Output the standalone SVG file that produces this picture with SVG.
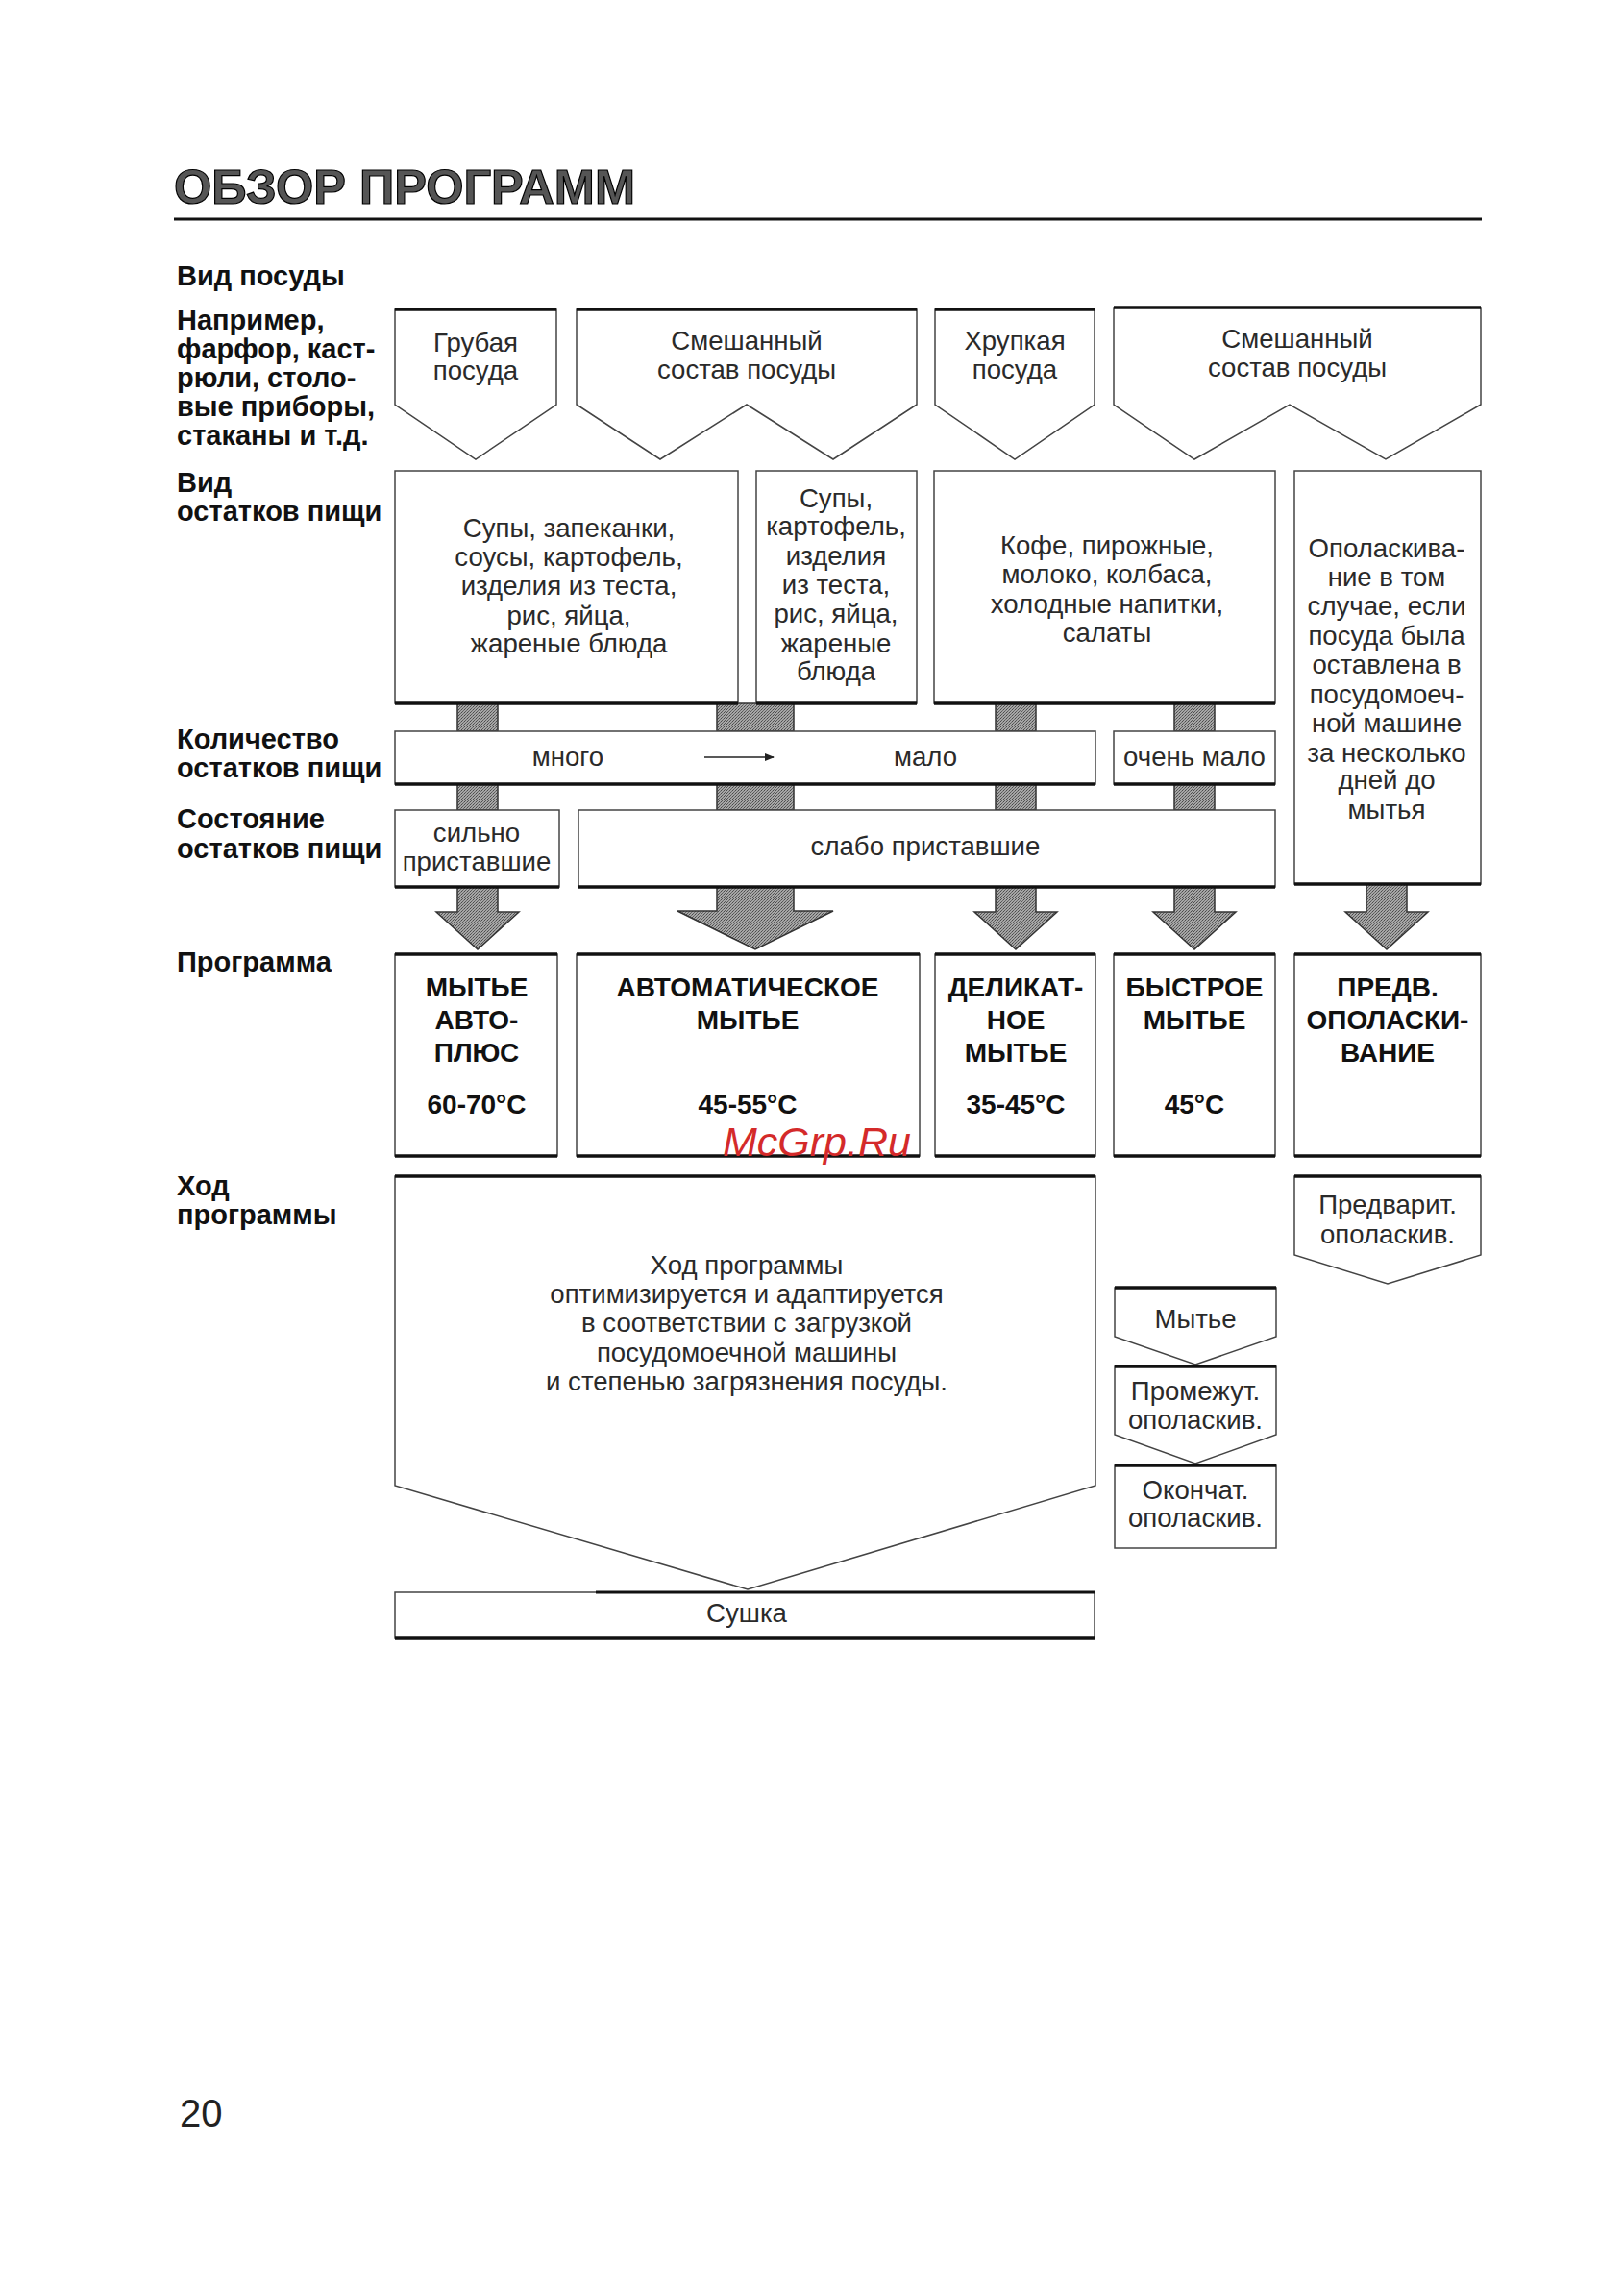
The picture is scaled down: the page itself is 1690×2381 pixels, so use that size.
<svg xmlns="http://www.w3.org/2000/svg" width="1690" height="2381" viewBox="0 0 1690 2381">
<style>
.lbl{font-family:"Liberation Sans",Arial,sans-serif;font-weight:bold;font-size:29px;fill:#111}
.t{font-family:"Liberation Sans",Arial,sans-serif;font-size:27.6px;fill:#2a2a2a;text-anchor:middle}
.p{font-family:"Liberation Sans",Arial,sans-serif;font-weight:bold;font-size:28px;fill:#111;text-anchor:middle}
.box{fill:#fff;stroke:#444;stroke-width:1.5}
.thick{stroke:#111;stroke-width:3.5;fill:none}
.bar{fill:url(#hatch);stroke:#333;stroke-width:1.5}
</style>
<defs>
<pattern id="hatch" width="3" height="3" patternUnits="userSpaceOnUse">
<rect width="3" height="3" fill="#a6a6a6"/>
<rect x="0" y="0" width="1" height="1" fill="#4a4a4a"/>
<rect x="2" y="1" width="1" height="1" fill="#6a6a6a"/>
<rect x="1" y="2" width="1" height="1" fill="#5a5a5a"/>
</pattern>
<marker id="ah" markerWidth="10" markerHeight="8" refX="9" refY="4" orient="auto" markerUnits="userSpaceOnUse">
<path d="M0 0 L10 4 L0 8 Z" fill="#222"/>
</marker>
</defs>
<rect width="1690" height="2381" fill="#fff"/>

<g id="header">
<text x="181" y="212" font-family="Liberation Sans,Arial,sans-serif" font-weight="bold" font-size="50.5" fill="#555" stroke="#000" stroke-width="1.2">ОБЗОР ПРОГРАММ</text>
<line x1="181" y1="228" x2="1542" y2="228" stroke="#111" stroke-width="3"/>
</g>

<g id="labels">
<text class="lbl" x="184" y="297">Вид посуды</text>
<text class="lbl" x="184" y="343">Например,</text>
<text class="lbl" x="184" y="373">фарфор, каст-</text>
<text class="lbl" x="184" y="403">рюли, столо-</text>
<text class="lbl" x="184" y="433">вые приборы,</text>
<text class="lbl" x="184" y="463">стаканы и т.д.</text>
<text class="lbl" x="184" y="512">Вид</text>
<text class="lbl" x="184" y="542">остатков пищи</text>
<text class="lbl" x="184" y="779">Количество</text>
<text class="lbl" x="184" y="809">остатков пищи</text>
<text class="lbl" x="184" y="862">Состояние</text>
<text class="lbl" x="184" y="893">остатков пищи</text>
<text class="lbl" x="184" y="1011">Программа</text>
<text class="lbl" x="184" y="1244">Ход</text>
<text class="lbl" x="184" y="1274">программы</text>
</g>

<g id="connectors">
<rect class="bar" x="476" y="732" width="42" height="29"/>
<rect class="bar" x="746" y="732" width="80" height="29"/>
<rect class="bar" x="1036" y="732" width="42" height="29"/>
<rect class="bar" x="1222" y="732" width="42" height="29"/>
<rect class="bar" x="476" y="816" width="42" height="27"/>
<rect class="bar" x="746" y="816" width="80" height="27"/>
<rect class="bar" x="1036" y="816" width="42" height="27"/>
<rect class="bar" x="1222" y="816" width="42" height="27"/>
<polygon class="bar" points="476,923 518,923 518,949 540,949 497,988 454,949 476,949"/>
<polygon class="bar" points="746,923 826,923 826,948 867,948 786,988 705,948 746,948"/>
<polygon class="bar" points="1036,923 1078,923 1078,949 1100,949 1057,988 1014,949 1036,949"/>
<polygon class="bar" points="1222,923 1264,923 1264,949 1286,949 1243,988 1200,949 1222,949"/>
<polygon class="bar" points="1422,920 1464,920 1464,949 1486,949 1443,988 1400,949 1422,949"/>
</g>

<g id="dish-coarse">
<polygon class="box" points="411,322 579,322 579,421 495,478 411,421"/>
<line class="thick" x1="411" y1="322" x2="579" y2="322"/>
<text class="t" x="495" y="366">Грубая</text>
<text class="t" x="495" y="395">посуда</text>
</g>
<g id="dish-mixed-1">
<polygon class="box" points="600,322 954,322 954,421 867,478 777,421 687,478 600,421"/>
<line class="thick" x1="600" y1="322" x2="954" y2="322"/>
<text class="t" x="777" y="364">Смешанный</text>
<text class="t" x="777" y="394">состав посуды</text>
</g>
<g id="dish-fragile">
<polygon class="box" points="973,322 1139,322 1139,421 1056,478 973,421"/>
<line class="thick" x1="973" y1="322" x2="1139" y2="322"/>
<text class="t" x="1056" y="364">Хрупкая</text>
<text class="t" x="1056" y="394">посуда</text>
</g>
<g id="dish-mixed-2">
<polygon class="box" points="1159,320 1541,320 1541,421 1442,478 1342,421 1243,478 1159,421"/>
<line class="thick" x1="1159" y1="320" x2="1541" y2="320"/>
<text class="t" x="1350" y="362">Смешанный</text>
<text class="t" x="1350" y="392">состав посуды</text>
</g>

<g id="food-heavy">
<rect class="box" x="411" y="490" width="357" height="242"/>
<line class="thick" x1="411" y1="732" x2="768" y2="732"/>
<text class="t" x="592" y="559">Супы, запеканки,</text>
<text class="t" x="592" y="589">соусы, картофель,</text>
<text class="t" x="592" y="619">изделия из теста,</text>
<text class="t" x="592" y="650">рис, яйца,</text>
<text class="t" x="592" y="679">жареные блюда</text>
</g>
<g id="food-heavy-2">
<rect class="box" x="787" y="490" width="167" height="242"/>
<line class="thick" x1="787" y1="732" x2="954" y2="732"/>
<text class="t" x="870" y="528">Супы,</text>
<text class="t" x="870" y="557">картофель,</text>
<text class="t" x="870" y="588">изделия</text>
<text class="t" x="870" y="618">из теста,</text>
<text class="t" x="870" y="648">рис, яйца,</text>
<text class="t" x="870" y="679">жареные</text>
<text class="t" x="870" y="708">блюда</text>
</g>
<g id="food-light">
<rect class="box" x="972" y="490" width="355" height="242"/>
<line class="thick" x1="972" y1="732" x2="1327" y2="732"/>
<text class="t" x="1152" y="577">Кофе, пирожные,</text>
<text class="t" x="1152" y="607">молоко, колбаса,</text>
<text class="t" x="1152" y="638">холодные напитки,</text>
<text class="t" x="1152" y="668">салаты</text>
</g>
<g id="food-rinse">
<rect class="box" x="1347" y="490" width="194" height="430"/>
<line class="thick" x1="1347" y1="920" x2="1541" y2="920"/>
<text class="t" x="1443" y="580">Ополаскива-</text>
<text class="t" x="1443" y="610">ние в том</text>
<text class="t" x="1443" y="640">случае, если</text>
<text class="t" x="1443" y="671">посуда была</text>
<text class="t" x="1443" y="701">оставлена в</text>
<text class="t" x="1443" y="732">посудомоеч-</text>
<text class="t" x="1443" y="762">ной машине</text>
<text class="t" x="1443" y="793">за несколько</text>
<text class="t" x="1443" y="821">дней до</text>
<text class="t" x="1443" y="852">мытья</text>
</g>

<g id="amount-many-few">
<rect class="box" x="411" y="761" width="729" height="55"/>
<line class="thick" x1="411" y1="816" x2="1140" y2="816"/>
<text class="t" x="591" y="797">много</text>
<line x1="733" y1="788" x2="805" y2="788" stroke="#222" stroke-width="1.5" marker-end="url(#ah)"/>
<text class="t" x="963" y="797">мало</text>
</g>
<g id="amount-very-few">
<rect class="box" x="1159" y="761" width="168" height="55"/>
<line class="thick" x1="1159" y1="816" x2="1327" y2="816"/>
<text class="t" x="1243" y="797">очень мало</text>
</g>

<g id="state-strong">
<rect class="box" x="411" y="843" width="171" height="80"/>
<line class="thick" x1="411" y1="923" x2="582" y2="923"/>
<text class="t" x="496" y="876">сильно</text>
<text class="t" x="496" y="906">приставшие</text>
</g>
<g id="state-weak">
<rect class="box" x="602" y="843" width="725" height="80"/>
<line class="thick" x1="602" y1="923" x2="1327" y2="923"/>
<text class="t" x="963" y="890">слабо приставшие</text>
</g>

<g id="prog-autoplus">
<rect class="box" x="411" y="993" width="169" height="210"/>
<line class="thick" x1="411" y1="993" x2="580" y2="993"/>
<line class="thick" x1="411" y1="1203" x2="580" y2="1203"/>
<text class="p" x="496" y="1037">МЫТЬЕ</text>
<text class="p" x="496" y="1071">АВТО-</text>
<text class="p" x="496" y="1105">ПЛЮС</text>
<text class="p" x="496" y="1159">60-70°C</text>
</g>
<g id="prog-auto">
<rect class="box" x="600" y="993" width="357" height="210"/>
<line class="thick" x1="600" y1="993" x2="957" y2="993"/>
<line class="thick" x1="600" y1="1203" x2="957" y2="1203"/>
<text class="p" x="778" y="1037">АВТОМАТИЧЕСКОЕ</text>
<text class="p" x="778" y="1071">МЫТЬЕ</text>
<text class="p" x="778" y="1159">45-55°C</text>
</g>
<g id="prog-delicate">
<rect class="box" x="973" y="993" width="167" height="210"/>
<line class="thick" x1="973" y1="993" x2="1140" y2="993"/>
<line class="thick" x1="973" y1="1203" x2="1140" y2="1203"/>
<text class="p" x="1057" y="1037">ДЕЛИКАТ-</text>
<text class="p" x="1057" y="1071">НОЕ</text>
<text class="p" x="1057" y="1105">МЫТЬЕ</text>
<text class="p" x="1057" y="1159">35-45°C</text>
</g>
<g id="prog-quick">
<rect class="box" x="1159" y="993" width="168" height="210"/>
<line class="thick" x1="1159" y1="993" x2="1327" y2="993"/>
<line class="thick" x1="1159" y1="1203" x2="1327" y2="1203"/>
<text class="p" x="1243" y="1037">БЫСТРОЕ</text>
<text class="p" x="1243" y="1071">МЫТЬЕ</text>
<text class="p" x="1243" y="1159">45°C</text>
</g>
<g id="prog-prerinse">
<rect class="box" x="1347" y="993" width="194" height="210"/>
<line class="thick" x1="1347" y1="993" x2="1541" y2="993"/>
<line class="thick" x1="1347" y1="1203" x2="1541" y2="1203"/>
<text class="p" x="1444" y="1037">ПРЕДВ.</text>
<text class="p" x="1444" y="1071">ОПОЛАСКИ-</text>
<text class="p" x="1444" y="1105">ВАНИЕ</text>
</g>

<g id="course-auto">
<polygon class="box" points="411,1224 1140,1224 1140,1546 778,1654 411,1546"/>
<line class="thick" x1="411" y1="1224" x2="1140" y2="1224"/>
<text class="t" x="777" y="1326">Ход программы</text>
<text class="t" x="777" y="1356">оптимизируется и адаптируется</text>
<text class="t" x="777" y="1386">в соответствии с загрузкой</text>
<text class="t" x="777" y="1417">посудомоечной машины</text>
<text class="t" x="777" y="1447">и степенью загрязнения посуды.</text>
</g>
<g id="course-dry">
<rect class="box" x="411" y="1657" width="728" height="48"/>
<line class="thick" x1="411" y1="1705" x2="1139" y2="1705"/>
<line x1="620" y1="1657" x2="1139" y2="1657" stroke="#111" stroke-width="3"/>
<text class="t" x="777" y="1688">Сушка</text>
</g>
<g id="course-prerinse">
<polygon class="box" points="1347,1224 1541,1224 1541,1306 1444,1336 1347,1306"/>
<line class="thick" x1="1347" y1="1224" x2="1541" y2="1224"/>
<text class="t" x="1444" y="1263">Предварит.</text>
<text class="t" x="1444" y="1294">ополаскив.</text>
</g>
<g id="course-wash">
<polygon class="box" points="1160,1340 1328,1340 1328,1391 1244,1420 1160,1391"/>
<line class="thick" x1="1160" y1="1340" x2="1328" y2="1340"/>
<text class="t" x="1244" y="1382">Мытье</text>
</g>
<g id="course-interrinse">
<polygon class="box" points="1160,1422 1328,1422 1328,1493 1244,1523 1160,1493"/>
<line class="thick" x1="1160" y1="1422" x2="1328" y2="1422"/>
<text class="t" x="1244" y="1457">Промежут.</text>
<text class="t" x="1244" y="1487">ополаскив.</text>
</g>
<g id="course-finalrinse">
<rect class="box" x="1160" y="1525" width="168" height="86"/>
<line class="thick" x1="1160" y1="1525" x2="1328" y2="1525"/>
<text class="t" x="1244" y="1560">Окончат.</text>
<text class="t" x="1244" y="1589">ополаскив.</text>
</g>

<text x="187" y="2213" font-family="Liberation Sans,Arial,sans-serif" font-size="40" fill="#222">20</text>
<text x="752" y="1203" font-family="Liberation Sans,Arial,sans-serif" font-style="italic" font-size="43" fill="#d42a2a">McGrp.Ru</text>
</svg>
